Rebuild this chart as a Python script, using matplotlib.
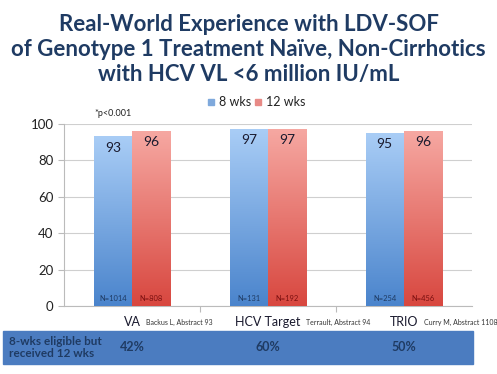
import numpy as np
import matplotlib
matplotlib.use("Agg")
import matplotlib.pyplot as plt
from matplotlib.colors import LinearSegmentedColormap
from matplotlib.patches import Rectangle

# data
studies = ["VA", "HCV Target", "TRIO"]
citations = ["Backus L, Abstract 93", "Terrault, Abstract 94", "Curry M, Abstract 1108"]
svr_8wk = [93, 97, 95]
svr_12wk = [96, 97, 96]
n_8wk = ["N=1014", "N=131", "N=254"]
n_12wk = ["N=808", "N=192", "N=456"]
pct_12wk = ["42%", "60%", "50%"]

navy = "#1f3b63"
plt.rcParams["font.family"] = ["Lato", "DejaVu Sans"]

fig = plt.figure(figsize=(4.97, 3.74), dpi=100)
ax = fig.add_axes([0.1288, 0.1818, 0.821, 0.4866])

x = np.arange(len(studies))
w = 0.283
bars_b = ax.bar(x - w / 2, svr_8wk, w, color="none", zorder=3)
bars_r = ax.bar(x + w / 2, svr_12wk, w, color="none", zorder=3)

blue_cmap = LinearSegmentedColormap.from_list("b", ["#4a84cc", "#a9cdf6"])
red_cmap = LinearSegmentedColormap.from_list("r", ["#d8473f", "#f6a8a2"])
grad = np.linspace(0, 1, 256).reshape(-1, 1)

# fill each bar with a vertical gradient
for bars, cmap in [(bars_b, blue_cmap), (bars_r, red_cmap)]:
    for b in bars:
        x0, y0 = b.get_x(), b.get_y()
        x1, y1 = x0 + b.get_width(), y0 + b.get_height()
        ax.imshow(grad, cmap=cmap, origin="lower", aspect="auto",
                  extent=[x0, x1, y0, y1], zorder=3)

for i in range(len(studies)):
    ax.text(x[i] - w / 2, svr_8wk[i] - 6, str(svr_8wk[i]), ha="center", va="center",
            fontsize=10, color="#1a1a2e", zorder=4)
    ax.text(x[i] + w / 2, svr_12wk[i] - 6, str(svr_12wk[i]), ha="center", va="center",
            fontsize=10, color="#1a1a2e", zorder=4)
    ax.text(x[i] - w / 2, 4, n_8wk[i], ha="center", va="center",
            fontsize=5.4, color=navy, zorder=4)
    ax.text(x[i] + w / 2, 4, n_12wk[i], ha="center", va="center",
            fontsize=5.4, color="#7a1010", zorder=4)

ax.set_xlim(-0.5, 2.5)
ax.set_ylim(0, 100)
ax.set_yticks([0, 20, 40, 60, 80, 100])
ax.tick_params(axis="y", labelsize=9.5, colors="#222222", length=4, color="#bbbbbb")
ax.set_xticks([0.5, 1.5])
ax.set_xticklabels([])
ax.tick_params(axis="x", length=4, color="#bbbbbb")
ax.grid(axis="y", color="#cfcfcf", linewidth=0.8, zorder=0)
ax.set_axisbelow(True)
for s in ["top", "right"]:
    ax.spines[s].set_visible(False)
ax.spines["left"].set_color("#bbbbbb")
ax.spines["bottom"].set_color("#bbbbbb")

ax.text(-0.28, 103.5, "*p<0.001", fontsize=6.5, color="#222222", va="bottom")

# category labels with citations
for i, name in enumerate(studies):
    t = ax.text(x[i], -9, name, ha="center", va="center", fontsize=9, color="#1a1a2e",
                clip_on=False)
    ax.annotate(citations[i], xy=(1, 0.5), xycoords=t, xytext=(4, 0),
                textcoords="offset points", ha="left", va="center",
                fontsize=5, color="#333333")

# title
title_lines = ["Real-World Experience with LDV-SOF",
               "of Genotype 1 Treatment Naïve, Non-Cirrhotics",
               "with HCV VL <6 million IU/mL"]
for k, line in enumerate(title_lines):
    fig.text(0.5, 0.935 - k * 0.067, line, ha="center", va="center",
             fontsize=16, fontweight="bold", color=navy)

# legend
fig.patches.append(Rectangle((0.418, 0.718), 0.012, 0.016, transform=fig.transFigure,
                             color="#7fa9dc"))
fig.text(0.440, 0.727, "8 wks", fontsize=9, va="center", color="#222222")
fig.patches.append(Rectangle((0.514, 0.718), 0.012, 0.016, transform=fig.transFigure,
                             color="#e88a86"))
fig.text(0.536, 0.727, "12 wks", fontsize=9, va="center", color="#222222")

# bottom banner
fig.patches.append(Rectangle((0.006, 0.027), 0.946, 0.088, transform=fig.transFigure,
                             color="#4b7cc0", zorder=0))
fig.text(0.018, 0.071, "8-wks eligible but\nreceived 12 wks", fontsize=8.5,
         fontweight="bold", color=navy, va="center", ha="left", linespacing=1.05)
for i, p in enumerate(pct_12wk):
    xf = ax.transData.transform((x[i], 0))[0] / fig.bbox.width
    fig.text(xf, 0.071, p, fontsize=9, fontweight="bold", color=navy,
             ha="center", va="center")

fig.savefig("out.png", dpi=100)
